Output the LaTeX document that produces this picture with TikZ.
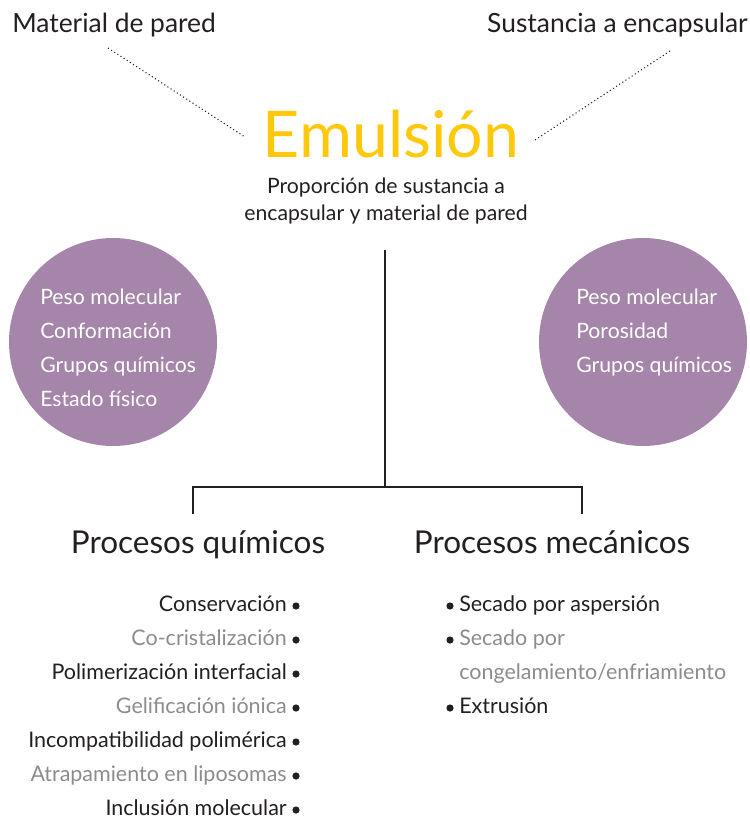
\documentclass[tikz,border=0pt]{standalone}
\usepackage{fontspec}
\setmainfont{Lato}
\usetikzlibrary{positioning,calc}
\definecolor{emuyellow}{HTML}{FFC80A}
\definecolor{circpurple}{HTML}{A585A9}
\definecolor{darktext}{HTML}{231F20}
\definecolor{greytext}{HTML}{8C8C8C}

\begin{document}
\begin{tikzpicture}[x=0.75pt,y=-0.75pt,
    toplabel/.style={inner sep=0pt, text=darktext, font=\fontsize{19.8}{22}\selectfont},
    subtext/.style={inner sep=0pt, text=darktext, font=\fontsize{15.9}{20}\selectfont},
    circtext/.style={inner sep=0pt, anchor=base west, text=white, font=\fontsize{15.9}{20}\selectfont},
    heading/.style={inner sep=0pt, text=darktext, font=\fontsize{23.6}{26}\selectfont},
    item/.style={inner sep=0pt, text=darktext, font=\fontsize{16.1}{20}\selectfont},
    greyitem/.style={item, text=greytext},
    bubble/.style={circle, fill=circpurple, minimum size=156pt, inner sep=0pt}]
        \useasboundingbox (0,0) rectangle (750,818);

        % Top labels and the dotted links to the title
        \node[toplabel, anchor=base west] (pared) at (12,32) {Material de pared};
        \node[toplabel, anchor=base east] (sustancia) at (748,32) {Sustancia a encapsular};
        \node[inner sep=0pt, anchor=base, text=emuyellow, font=\fontsize{48.3}{52}\selectfont] (emulsion) at (391,157) {Emulsión};
        \coordinate (pA) at (108,48);
        \coordinate (pB) at (245,137);
        \coordinate (sA) at (670,51);
        \coordinate (sB) at (535,140);
        \draw[dotted, thick, darktext] (pA) -- (pB);
        \draw[dotted, thick, darktext] (sA) -- (sB);

        % Proportion text
        \node[subtext, anchor=base] (prop1) at (386,193) {Proporción de sustancia a};
        \node[subtext, anchor=base] (prop2) at (386,220) {encapsular y material de pared};

        % The two circles
        \node[bubble] (leftc) at (113,342) {};
        \node[bubble] (rightc) at (643,342) {};
        \node[circtext] (l1) at (40,304) {Peso molecular};
        \node[circtext] (l2) at (40,338) {Conformación};
        \node[circtext] (l3) at (40,372) {Grupos químicos};
        \node[circtext] (l4) at (40,406) {Estado físico};
        \node[circtext] (r1) at (576,304) {Peso molecular};
        \node[circtext] (r2) at (576,338) {Porosidad};
        \node[circtext] (r3) at (576,372) {Grupos químicos};

        % Tree of the two kinds of process
        \coordinate (top) at (385,250);
        \coordinate (fork) at (385,487);
        \coordinate (forkL) at (193,487);
        \coordinate (forkR) at (582,487);
        \coordinate (endL) at (193,514);
        \coordinate (endR) at (582,514);
        \draw[darktext, line width=0.9pt] (top) -- (fork);
        \draw[darktext, line width=0.9pt] (endL) -- (forkL) -- (forkR) -- (endR);

        \node[heading, anchor=base] (quim) at (198,553) {Procesos químicos};
        \node[heading, anchor=base] (mec) at (552,553) {Procesos mecánicos};

        % Chemical processes, right aligned with bullets
        \node[item, anchor=base east] (q1) at (287,611) {Conservación};
        \node[greyitem, anchor=base east] (q2) at (287,645) {Co-cristalización};
        \node[item, anchor=base east] (q3) at (287,679) {Polimerización interfacial};
        \node[greyitem, anchor=base east] (q4) at (287,713) {Gelificación iónica};
        \node[item, anchor=base east] (q5) at (287,747) {Incompatibilidad polimérica};
        \node[greyitem, anchor=base east] (q6) at (287,781) {Atrapamiento en liposomas};
        \node[item, anchor=base east] (q7) at (287,815) {Inclusión molecular};
        \foreach \y in {611,645,679,713,747,781,815}
            \fill[darktext] (296,\y-5) circle (3.6);

        % Mechanical processes
        \node[item, anchor=base west] (m1) at (459,611) {Secado por aspersión};
        \node[greyitem, anchor=base west] (m2) at (459,645) {Secado por};
        \node[greyitem, anchor=base west] (m3) at (459,679) {congelamiento/enfriamiento};
        \node[item, anchor=base west] (m4) at (459,713) {Extrusión};
        \foreach \y in {611,645,713}
            \fill[darktext] (450,\y-5) circle (3.6);
\end{tikzpicture}
\end{document}
